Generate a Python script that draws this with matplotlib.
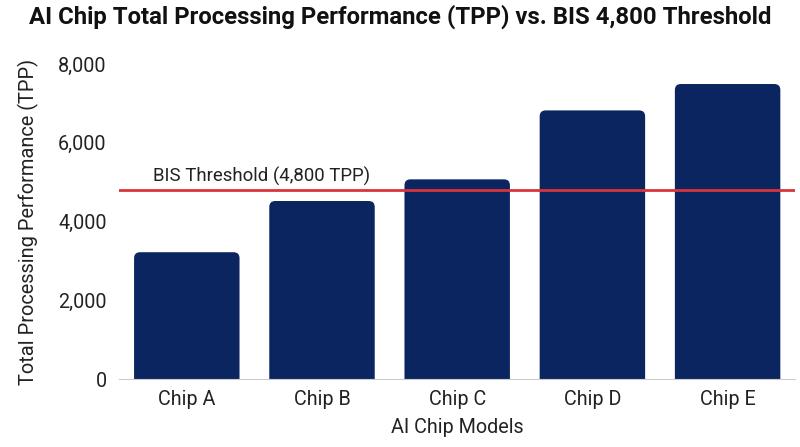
import matplotlib.pyplot as plt
from matplotlib.patches import FancyBboxPatch
from matplotlib.ticker import FuncFormatter

plt.rcParams['font.family'] = ['Roboto', 'DejaVu Sans']

# Datos
chips = ['Chip A', 'Chip B', 'Chip C', 'Chip D', 'Chip E']
tpp = [3220, 4520, 5070, 6820, 7490]
umbral = 4800
umbral_texto = 'BIS Threshold (4,800 TPP)'

color_barra = '#0b2560'
color_linea = '#d9343a'

fig = plt.figure(figsize=(8, 4.47), dpi=100)
ax = fig.add_axes([0.149, 0.152, 0.845, 0.705])
ax.set_xlim(-0.5, len(chips) - 0.5)
ax.set_ylim(0, 8000)

# Barras con esquinas superiores redondeadas
ancho = 0.78
r_px = 6
px_x = ax.transData.transform((1, 0))[0] - ax.transData.transform((0, 0))[0]
px_y = ax.transData.transform((0, 1))[1] - ax.transData.transform((0, 0))[1]
r_x = r_px / px_x
aspecto = px_x / px_y
for i, v in enumerate(tpp):
    p = FancyBboxPatch((i - ancho / 2, -r_x * aspecto * 2), ancho, v + r_x * aspecto * 2,
                       boxstyle=f'round,pad=0,rounding_size={r_x}',
                       mutation_aspect=aspecto,
                       facecolor=color_barra, edgecolor='none', zorder=2)
    ax.add_patch(p)

# Línea del umbral
ax.axhline(umbral, color=color_linea, lw=2, zorder=3)
ax.text(-0.25, umbral + 110, umbral_texto, fontsize=13.4, color='#222222', va='bottom')

ax.set_xticks(range(len(chips)))
ax.set_xticklabels(chips)
ax.set_yticks([0, 2000, 4000, 6000, 8000])
ax.yaxis.set_major_formatter(FuncFormatter(lambda v, p: f'{int(v):,}'))
ax.tick_params(axis='both', length=0, labelsize=14.2, colors='#222222')
ax.tick_params(axis='x', pad=8)
ax.tick_params(axis='y', pad=9)

for s in ['top', 'right', 'left']:
    ax.spines[s].set_visible(False)
ax.spines['bottom'].set_color('#cccccc')
ax.spines['bottom'].set_zorder(4)

ax.set_xlabel('AI Chip Models', fontsize=14.2, color='#222222', labelpad=6)
ax.set_ylabel('Total Processing Performance (TPP)', fontsize=14.4, color='#222222', labelpad=14)
fig.text(0.5, 1 - 17 / 447, 'AI Chip Total Processing Performance (TPP) vs. BIS 4,800 Threshold',
         ha='center', va='center', fontsize=17.2, fontweight='bold', color='#111111')

fig.savefig('out.png', dpi=100)
